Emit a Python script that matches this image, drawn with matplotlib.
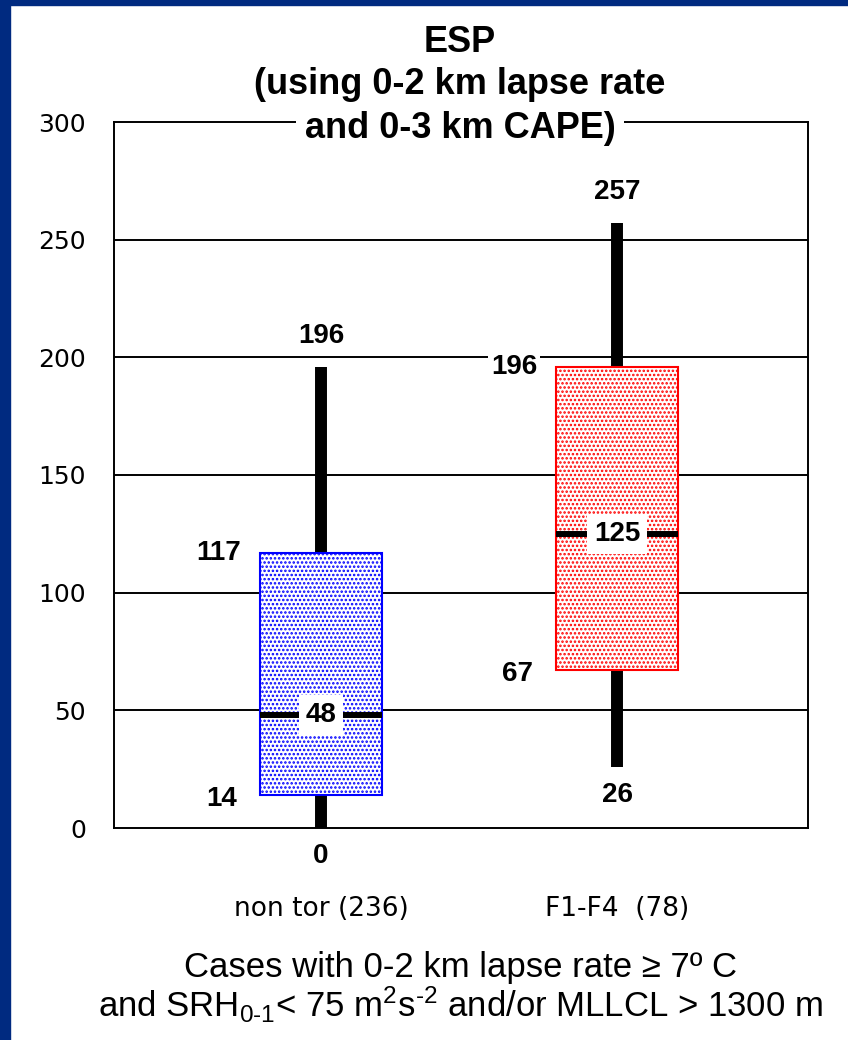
import matplotlib
matplotlib.use("Agg")
import matplotlib.pyplot as plt
from matplotlib.patches import Rectangle

# ESP box-and-whisker summary (min, 25th, median, 75th, max)
categories = ["non tor (236)", "F1-F4  (78)"]
mins = [0, 26]
q1s = [14, 67]
medians = [48, 125]
q3s = [117, 196]
maxs = [196, 257]
box_colors = ["blue", "red"]
yticks = [0, 50, 100, 150, 200, 250, 300]

plt.rcParams["mathtext.fontset"] = "custom"
plt.rcParams["mathtext.rm"] = "Liberation Sans"
plt.rcParams["mathtext.it"] = "Liberation Sans"
plt.rcParams["hatch.linewidth"] = 1.2

fig = plt.figure(figsize=(8.48, 10.4), dpi=100)
fig.patch.set_facecolor("white")
# blue slide border on the left and top
fig.patches.append(Rectangle((0, 0), 10 / 848, 1, transform=fig.transFigure,
                             color="#002a80", zorder=0))
fig.patches.append(Rectangle((0, 1 - 5 / 1040), 1, 5 / 1040, transform=fig.transFigure,
                             color="#002a80", zorder=0))

ax = fig.add_axes([114 / 848, 212 / 1040, 694 / 848, 706 / 1040])

stats = []
for i in range(len(categories)):
    stats.append(dict(med=medians[i], q1=q1s[i], q3=q3s[i],
                      whislo=mins[i], whishi=maxs[i], fliers=[]))

pos = list(range(len(categories)))
bp = ax.bxp(stats, positions=pos, widths=0.41, patch_artist=True, showcaps=False,
            showfliers=False,
            whiskerprops=dict(color="black", linewidth=8.6, solid_capstyle="butt"),
            medianprops=dict(color="black", linewidth=4.3, solid_capstyle="butt"),
            boxprops=dict(linewidth=1.5))
for patch, c in zip(bp["boxes"], box_colors):
    patch.set_facecolor("white")
    patch.set_edgecolor(c)
    patch.set_hatch("....")
    patch.set_zorder(3)
for w in bp["whiskers"]:
    w.set_zorder(2)
for m in bp["medians"]:
    m.set_zorder(4)

ax.set_xlim(-0.699, 1.645)
ax.set_ylim(0, 300)
ax.set_yticks(yticks)
ax.set_yticklabels([str(t) for t in yticks], fontfamily="DejaVu Sans", fontsize=18)
ax.set_xticks(pos)
ax.set_xticklabels(categories, fontfamily="DejaVu Sans", fontsize=19)
ax.tick_params(axis="y", length=0, pad=20)
ax.tick_params(axis="x", length=0, pad=49)
for y in yticks[1:-1]:
    ax.axhline(y, color="black", linewidth=1.4, zorder=1)
for s in ax.spines.values():
    s.set_linewidth(1.4)

num_font = dict(fontfamily="Liberation Sans", fontweight="bold", fontsize=20)
half = 0.205
for i, x in enumerate(pos):
    ax.annotate(str(maxs[i]), (x, maxs[i]), xytext=(0, 31), textcoords="offset pixels",
                ha="center", va="center", **num_font)
    ax.annotate(str(mins[i]), (x, mins[i]), xytext=(0, -28), textcoords="offset pixels",
                ha="center", va="center", **num_font)
    ax.annotate(str(q3s[i]), (x - half, q3s[i]), xytext=(-19, 0), textcoords="offset pixels",
                ha="right", va="center", zorder=5,
                bbox=dict(facecolor="white", edgecolor="none", pad=2), **num_font)
    ax.annotate(str(q1s[i]), (x - half, q1s[i]), xytext=(-23, -4), textcoords="offset pixels",
                ha="right", va="center", **num_font)
    ax.text(x, medians[i], str(medians[i]), ha="center", va="center", zorder=6,
            bbox=dict(facecolor="white", edgecolor="none", pad=5), **num_font)

title_font = dict(fontfamily="Liberation Sans", fontweight="bold", fontsize=26)
cx = 460 / 848
fig.text(cx, 1 - 42 / 1040, "ESP", ha="center", va="center", **title_font)
fig.text(cx, 1 - 85 / 1040, "(using 0-2 km lapse rate", ha="center", va="center", **title_font)
fig.text(cx, 1 - 128 / 1040, "and 0-3 km CAPE)", ha="center", va="center", zorder=10,
         bbox=dict(facecolor="white", edgecolor="none", pad=6), **title_font)

cap_font = dict(fontfamily="Liberation Sans", fontsize=25)
fig.text(cx, 1 - 968 / 1040, "Cases with 0-2 km lapse rate \u2265 7\u00ba C",
         ha="center", va="center", **cap_font)
fig.text(cx, 1 - 1005 / 1040,
         r"and SRH$_{0\text{-}1}$< 75 m$^2$s$^{\text{-}2}$ and/or MLLCL > 1300 m",
         ha="center", va="center", **cap_font)

fig.savefig("out.png", dpi=100, facecolor="white")
